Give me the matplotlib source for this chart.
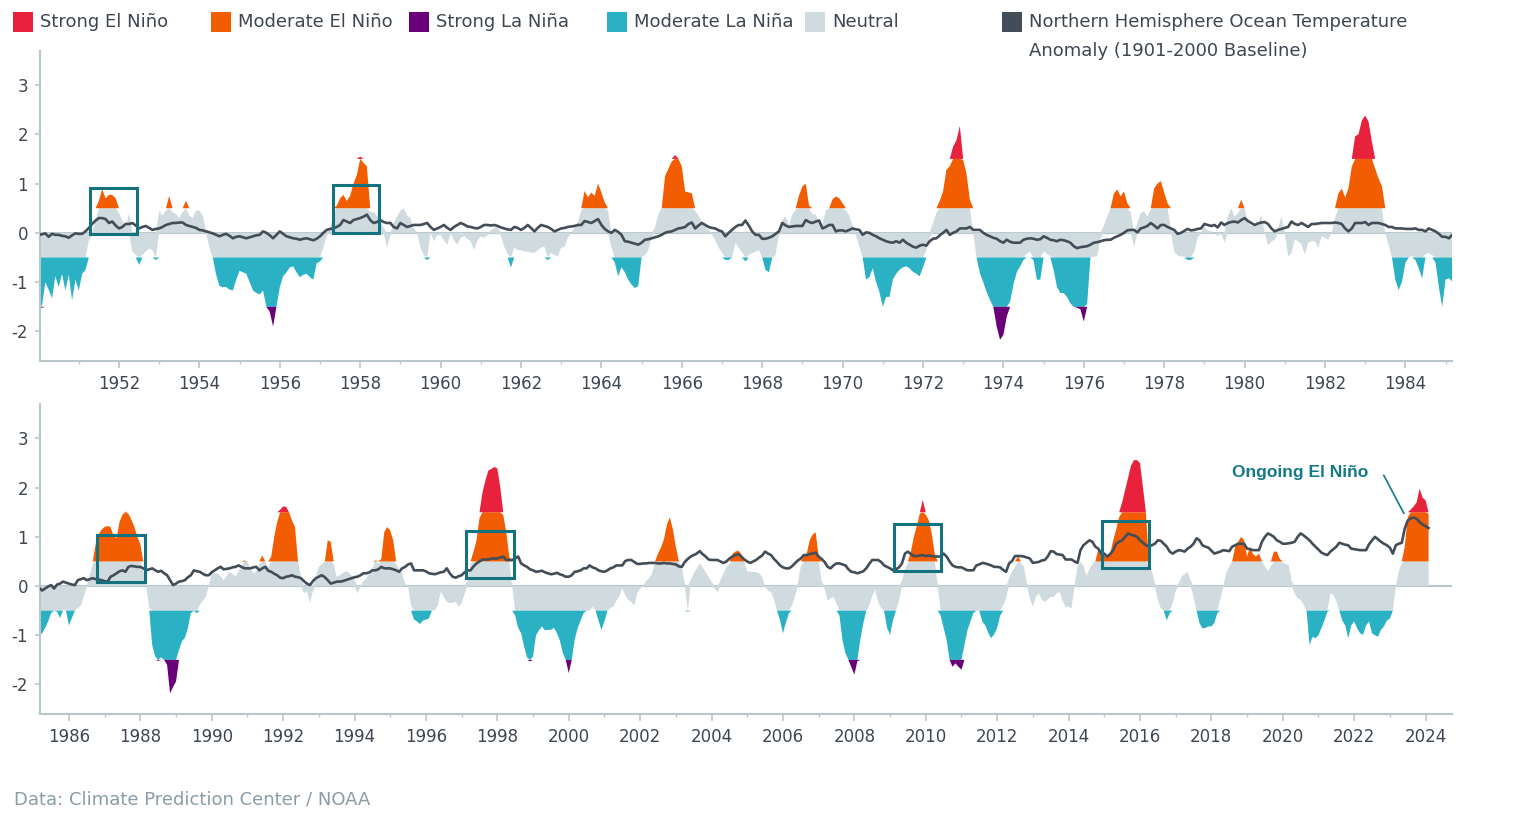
import numpy as np
import matplotlib
matplotlib.use("Agg")
import matplotlib.pyplot as plt
from matplotlib.patches import Rectangle

# Monthly ENSO index (Jan 1950 - Feb 2024)
enso_index = [
    -1.3, -1.52, -1.0, -1.15, -1.33, -0.88, -1.1, -0.83, -1.17, -0.85, -1.37, -0.95,   # 1950
    -1.17, -0.83, -0.75, -0.15, -0.05, 0.25, 0.65, 0.89, 0.7, 0.77, 0.77, 0.7,        # 1951
    0.4, 0.25, 0.12, 0.4, -0.38, -0.45, -0.65, -0.45, -0.38, -0.32, -0.35, -0.55,     # 1952
    0.45, 0.35, 0.45, 0.75, 0.42, 0.38, 0.3, 0.42, 0.65, 0.35, 0.3, 0.45,             # 1953
    0.45, 0.35, 0.05, -0.3, -0.5, -0.85, -1.08, -1.1, -1.1, -1.15, -1.17, -0.95,      # 1954
    -0.77, -0.8, -0.83, -1.0, -1.17, -1.22, -1.25, -1.17, -1.5, -1.6, -1.9, -1.5,     # 1955
    -1.1, -0.88, -0.8, -0.7, -0.68, -0.8, -0.9, -0.85, -0.83, -0.9, -0.95, -0.62,     # 1956
    -0.58, -0.3, -0.05, 0.1, 0.35, 0.55, 0.7, 0.77, 0.65, 0.75, 1.0, 1.17,            # 1957
    1.55, 1.42, 1.35, 0.42, 0.42, 0.35, 0.25, 0.1, -0.3, -0.05, 0.2, 0.33,            # 1958
    0.45, 0.5, 0.35, 0.3, 0.1, 0.0, -0.3, -0.45, -0.55, 0.0, -0.17, -0.05,            # 1959
    -0.04, -0.15, -0.24, -0.02, -0.15, -0.24, -0.1, -0.07, -0.12, -0.17, -0.35, -0.15,  # 1960
    -0.07, -0.1, -0.05, 0.05, 0.1, 0.12, -0.05, -0.28, -0.42, -0.7, -0.3, -0.35,      # 1961
    -0.35, -0.38, -0.38, -0.4, -0.41, -0.35, -0.3, -0.28, -0.55, -0.4, -0.45, -0.48,  # 1962
    -0.3, -0.28, -0.1, 0.0, 0.1, 0.22, 0.45, 0.85, 0.72, 0.82, 0.75, 1.0,             # 1963
    0.82, 0.62, 0.45, -0.3, -0.6, -0.88, -0.7, -0.8, -0.95, -1.05, -1.12, -1.08,      # 1964
    -0.5, -0.45, -0.35, -0.1, 0.1, 0.38, 0.5, 1.15, 1.3, 1.45, 1.58, 1.5,             # 1965
    1.35, 0.84, 0.82, 0.8, 0.45, 0.35, 0.22, 0.15, 0.05, -0.03, -0.15, -0.3,          # 1966
    -0.4, -0.55, -0.55, -0.5, -0.2, -0.3, -0.4, -0.58, -0.45, -0.41, -0.38, -0.35,    # 1967
    -0.5, -0.75, -0.8, -0.5, -0.45, -0.05, 0.26, 0.33, 0.15, 0.37, 0.47, 0.76,        # 1968
    0.94, 1.0, 0.55, 0.38, 0.37, 0.22, 0.17, 0.45, 0.5, 0.68, 0.74, 0.7,              # 1969
    0.6, 0.45, 0.35, 0.15, -0.05, -0.28, -0.5, -0.95, -0.9, -0.72, -1.0, -1.2,        # 1970
    -1.5, -1.3, -1.3, -0.95, -0.83, -0.75, -0.7, -0.68, -0.72, -0.79, -0.83, -0.88,   # 1971
    -0.7, -0.35, -0.1, 0.2, 0.4, 0.65, 0.84, 1.28, 1.35, 1.75, 1.88, 2.17,            # 1972
    1.48, 1.2, 0.67, 0.0, -0.5, -0.82, -1.0, -1.2, -1.36, -1.5, -1.9, -2.17,          # 1973
    -2.07, -1.7, -1.4, -1.05, -0.8, -0.68, -0.55, -0.42, -0.38, -0.55, -0.95, -0.95,  # 1974
    -0.38, -0.42, -0.48, -0.75, -1.1, -1.22, -1.22, -1.3, -1.43, -1.5, -1.52, -1.55,  # 1975
    -1.8, -1.45, -0.5, -0.48, -0.48, -0.1, 0.15, 0.33, 0.5, 0.8, 0.88, 0.74,          # 1976
    0.84, 0.6, 0.42, -0.28, 0.2, 0.4, 0.44, 0.33, 0.48, 0.9, 1.0, 1.05,               # 1977
    0.82, 0.6, 0.1, -0.38, -0.46, -0.48, -0.48, -0.55, -0.55, -0.38, -0.1, 0.02,      # 1978
    0.13, 0.05, 0.03, 0.0, -0.07, 0.0, -0.2, 0.33, 0.5, 0.33, 0.4, 0.67,              # 1979
    0.5, 0.2, 0.15, 0.13, 0.17, 0.38, 0.0, -0.25, -0.18, -0.14, 0.1, 0.33,            # 1980
    0.0, -0.48, -0.41, -0.14, -0.17, -0.24, -0.44, -0.2, -0.17, -0.17, -0.31, -0.07,  # 1981
    -0.1, -0.14, 0.0, 0.3, 0.8, 0.9, 0.72, 0.9, 1.34, 1.96, 2.0, 2.28,                # 1982
    2.38, 2.26, 1.85, 1.3, 1.1, 0.95, 0.0, -0.25, -0.5, -0.95, -1.16, -0.99,          # 1983
    -0.61, -0.5, -0.47, -0.55, -0.72, -0.92, -0.44, -0.41, -0.45, -0.6, -1.1, -1.5,   # 1984
    -0.95, -0.92, -0.99, -0.96, -0.85, -0.72, -0.55, -0.5, -0.52, -0.65, -0.49, -0.5,  # 1985
    -0.8, -0.65, -0.5, -0.45, -0.4, -0.22, 0.0, 0.22, 0.45, 0.86, 1.05, 1.15,         # 1986
    1.2, 1.22, 1.2, 1.02, 0.97, 1.3, 1.45, 1.51, 1.47, 1.35, 1.2, 1.0,                # 1987
    0.85, 0.3, 0.0, -0.45, -1.2, -1.43, -1.52, -1.45, -1.5, -1.6, -2.18, -2.05,       # 1988
    -1.94, -1.3, -1.12, -1.05, -0.85, -0.55, -0.49, -0.55, -0.38, -0.3, -0.22, -0.01,  # 1989
    0.26, 0.26, 0.26, 0.2, 0.12, 0.2, 0.29, 0.25, 0.19, 0.3, 0.4, 0.52,               # 1990
    0.5, 0.35, 0.26, 0.3, 0.45, 0.62, 0.5, 0.38, 0.6, 1.0, 1.3, 1.55,                 # 1991
    1.62, 1.61, 1.5, 1.33, 1.2, 0.5, 0.19, -0.15, -0.11, -0.34, -0.11, 0.19,          # 1992
    0.39, 0.45, 0.49, 0.93, 0.9, 0.45, 0.19, 0.22, 0.26, 0.3, 0.28, 0.22,             # 1993
    0.12, -0.15, -0.01, 0.1, 0.16, 0.26, 0.35, 0.52, 0.46, 0.55, 1.1, 1.2,            # 1994
    1.13, 0.93, 0.45, 0.35, 0.26, 0.05, -0.01, -0.4, -0.68, -0.72, -0.77, -0.7,       # 1995
    -0.68, -0.66, -0.5, -0.49, -0.39, -0.12, -0.22, -0.32, -0.35, -0.34, -0.32, -0.42,  # 1996
    -0.35, -0.15, 0.1, 0.45, 0.7, 0.93, 1.38, 1.9, 2.15, 2.35, 2.38, 2.42,            # 1997
    2.39, 2.0, 1.44, 1.1, 0.6, 0.0, -0.6, -0.85, -0.96, -1.23, -1.45, -1.53,          # 1998
    -1.43, -1.0, -0.9, -0.82, -0.9, -0.89, -0.89, -0.85, -0.95, -1.1, -1.36, -1.5,    # 1999
    -1.77, -1.5, -1.09, -0.85, -0.7, -0.55, -0.5, -0.5, -0.42, -0.5, -0.7, -0.89,     # 2000
    -0.72, -0.5, -0.45, -0.42, -0.3, -0.2, -0.05, -0.19, -0.28, -0.32, -0.4, -0.15,   # 2001
    -0.05, 0.0, 0.1, 0.16, 0.25, 0.47, 0.66, 0.78, 0.95, 1.25, 1.4, 1.15,             # 2002
    0.8, 0.5, 0.39, 0.05, -0.52, 0.12, 0.26, 0.35, 0.46, 0.39, 0.28, 0.19,            # 2003
    0.09, -0.05, -0.12, 0.12, 0.25, 0.39, 0.45, 0.65, 0.7, 0.72, 0.65, 0.5,           # 2004
    0.3, 0.29, 0.29, 0.28, 0.26, 0.19, 0.0, -0.1, -0.12, -0.28, -0.5, -0.69,          # 2005
    -0.96, -0.74, -0.55, -0.4, -0.22, 0.05, 0.4, 0.6, 0.66, 0.93, 1.05, 1.09,         # 2006
    0.6, 0.1, -0.05, -0.3, -0.25, -0.22, -0.35, -0.6, -1.1, -1.36, -1.5, -1.65,       # 2007
    -1.8, -1.53, -1.09, -0.76, -0.5, -0.4, -0.2, -0.08, -0.32, -0.45, -0.5, -0.85,    # 2008
    -0.99, -0.69, -0.5, -0.3, 0.1, 0.35, 0.47, 0.7, 1.0, 1.22, 1.47, 1.75,            # 2009
    1.45, 1.34, 1.07, 0.66, 0.05, -0.6, -0.85, -1.09, -1.5, -1.64, -1.57, -1.64,      # 2010
    -1.7, -1.2, -0.9, -0.72, -0.55, -0.5, -0.5, -0.72, -0.8, -0.95, -1.06, -0.98,     # 2011
    -0.85, -0.6, -0.4, -0.25, 0.15, 0.3, 0.39, 0.6, 0.47, 0.39, 0.05, -0.25,          # 2012
    -0.42, -0.22, -0.15, -0.28, -0.32, -0.28, -0.22, -0.22, -0.15, -0.12, -0.3, -0.42,  # 2013
    -0.42, -0.45, -0.01, 0.4, 0.49, 0.42, 0.2, 0.35, 0.45, 0.5, 0.75, 0.7,            # 2014
    0.62, 0.6, 0.66, 0.93, 1.15, 1.4, 1.7, 1.95, 2.2, 2.45, 2.56, 2.56,               # 2015
    2.5, 2.01, 1.5, 0.45, 0.3, 0.05, -0.28, -0.45, -0.5, -0.7, -0.55, -0.35,          # 2016
    -0.1, 0.05, 0.19, 0.25, 0.29, 0.12, -0.22, -0.5, -0.75, -0.86, -0.85, -0.82,      # 2017
    -0.82, -0.75, -0.55, -0.28, -0.01, 0.26, 0.4, 0.5, 0.8, 0.9, 1.0, 0.93,           # 2018
    0.6, 0.8, 0.65, 0.6, 0.66, 0.5, 0.4, 0.3, 0.4, 0.7, 0.7, 0.55,                    # 2019
    0.47, 0.46, 0.42, 0.1, -0.15, -0.25, -0.28, -0.38, -0.5, -1.2, -1.03, -1.06,      # 2020
    -1.0, -0.85, -0.7, -0.52, -0.15, -0.18, -0.3, -0.5, -0.7, -0.8, -1.06, -0.8,      # 2021
    -0.72, -0.86, -0.96, -0.99, -0.8, -0.72, -0.96, -1.0, -1.03, -0.89, -0.82, -0.7,  # 2022
    -0.66, -0.5, -0.01, 0.3, 0.47, 0.8, 1.4, 1.55, 1.62, 1.7, 1.98, 1.8,              # 2023
    1.74, 1.47,                                                                       # 2024
]

# Monthly Northern Hemisphere ocean temperature anomaly (deg C, 1901-2000 baseline)
nh_ocean_anomaly = [
    -0.04, -0.03, -0.01, -0.08, -0.02, -0.04, -0.04, -0.06, -0.07, -0.1, -0.05, -0.01,  # 1950
    -0.02, -0.02, 0.03, 0.1, 0.18, 0.25, 0.3, 0.3, 0.28, 0.2, 0.23, 0.15,
    0.09, 0.12, 0.18, 0.18, 0.2, 0.15, 0.09, 0.12, 0.14, 0.1, 0.06, 0.08,
    0.09, 0.12, 0.16, 0.18, 0.2, 0.2, 0.21, 0.21, 0.16, 0.14, 0.12, 0.1,
    0.06, 0.05, 0.03, 0.01, -0.01, -0.04, -0.07, -0.04, -0.02, -0.06, -0.11, -0.08,
    -0.07, -0.09, -0.11, -0.09, -0.07, -0.05, -0.04, 0.03, 0.0, -0.05, -0.11, -0.04,  # 1955
    0.03, -0.02, -0.07, -0.09, -0.11, -0.12, -0.14, -0.12, -0.11, -0.13, -0.15, -0.12,
    -0.07, 0.0, 0.06, 0.08, 0.09, 0.12, 0.16, 0.26, 0.23, 0.2, 0.26, 0.28,
    0.3, 0.33, 0.37, 0.26, 0.2, 0.22, 0.26, 0.22, 0.2, 0.2, 0.12, 0.09,
    0.2, 0.16, 0.12, 0.14, 0.16, 0.16, 0.16, 0.18, 0.2, 0.12, 0.06, 0.09,
    0.12, 0.16, 0.1, 0.06, 0.12, 0.16, 0.2, 0.17, 0.13, 0.12, 0.1, 0.09,              # 1960
    0.12, 0.16, 0.16, 0.15, 0.16, 0.14, 0.11, 0.09, 0.07, 0.06, 0.12, 0.1,
    0.06, 0.1, 0.16, 0.1, 0.03, 0.1, 0.16, 0.14, 0.12, 0.08, 0.03, 0.06,
    0.09, 0.1, 0.12, 0.13, 0.14, 0.16, 0.16, 0.24, 0.22, 0.2, 0.24, 0.28,
    0.16, 0.08, 0.03, 0.0, 0.06, 0.02, -0.04, -0.17, -0.18, -0.2, -0.22, -0.24,
    -0.2, -0.14, -0.13, -0.11, -0.09, -0.07, -0.04, 0.0, 0.02, 0.03, 0.06, 0.09,      # 1965
    0.1, 0.12, 0.18, 0.21, 0.09, 0.15, 0.2, 0.16, 0.12, 0.1, 0.09, 0.05,
    0.03, -0.07, 0.0, 0.06, 0.12, 0.16, 0.16, 0.25, 0.15, 0.03, -0.04, -0.04,
    -0.12, -0.12, -0.1, -0.07, -0.02, 0.03, 0.2, 0.15, 0.12, 0.13, 0.14, 0.14,
    0.14, 0.26, 0.22, 0.2, 0.23, 0.25, 0.09, 0.12, 0.16, 0.16, 0.03, 0.05,
    0.05, 0.03, 0.06, 0.09, 0.07, 0.06, -0.04, 0.01, 0.0, -0.04, -0.07, -0.11,        # 1970
    -0.14, -0.17, -0.19, -0.2, -0.17, -0.2, -0.14, -0.2, -0.24, -0.28, -0.3, -0.26,
    -0.24, -0.26, -0.17, -0.12, -0.11, -0.05, 0.0, 0.06, -0.04, 0.0, 0.03, 0.09,
    0.09, 0.09, 0.12, 0.06, 0.06, 0.06, 0.0, -0.04, -0.07, -0.1, -0.12, -0.17,
    -0.2, -0.14, -0.18, -0.2, -0.2, -0.2, -0.14, -0.12, -0.11, -0.12, -0.14, -0.13,
    -0.07, -0.1, -0.14, -0.15, -0.17, -0.14, -0.15, -0.17, -0.2, -0.27, -0.31, -0.29,  # 1975
    -0.28, -0.27, -0.24, -0.2, -0.19, -0.17, -0.15, -0.14, -0.14, -0.1, -0.07, -0.04,
    0.0, 0.05, 0.06, 0.06, 0.01, 0.09, 0.11, 0.14, 0.2, 0.15, 0.09, 0.16,
    0.16, 0.12, 0.09, 0.06, -0.02, 0.0, 0.04, 0.08, 0.05, 0.06, 0.08, 0.09,
    0.18, 0.16, 0.14, 0.16, 0.11, 0.21, 0.16, 0.2, 0.22, 0.23, 0.21, 0.26,
    0.3, 0.24, 0.2, 0.16, 0.19, 0.21, 0.22, 0.18, 0.09, 0.03, 0.06, 0.08,             # 1980
    0.1, 0.12, 0.23, 0.18, 0.16, 0.2, 0.16, 0.12, 0.18, 0.18, 0.19, 0.2,
    0.2, 0.2, 0.2, 0.21, 0.2, 0.18, 0.09, 0.03, 0.09, 0.2, 0.2, 0.2,
    0.22, 0.16, 0.2, 0.2, 0.2, 0.18, 0.16, 0.12, 0.12, 0.09, 0.09, 0.09,
    0.08, 0.08, 0.08, 0.09, 0.06, 0.06, 0.03, 0.09, 0.06, 0.03, -0.02, -0.08,
    -0.08, -0.11, -0.04, -0.09, -0.05, -0.01, 0.02, -0.05, 0.03, 0.05, 0.09, 0.07,    # 1985
    0.05, 0.03, 0.02, 0.12, 0.14, 0.16, 0.12, 0.14, 0.16, 0.14, 0.13, 0.12,
    0.1, 0.09, 0.19, 0.22, 0.26, 0.3, 0.32, 0.29, 0.39, 0.41, 0.4, 0.39,
    0.39, 0.36, 0.32, 0.34, 0.36, 0.32, 0.29, 0.31, 0.26, 0.22, 0.12, 0.02,
    0.05, 0.09, 0.1, 0.12, 0.18, 0.22, 0.32, 0.3, 0.29, 0.25, 0.22, 0.22,
    0.28, 0.32, 0.36, 0.39, 0.34, 0.35, 0.36, 0.38, 0.39, 0.42, 0.39, 0.36,           # 1990
    0.36, 0.36, 0.38, 0.39, 0.32, 0.36, 0.39, 0.31, 0.29, 0.25, 0.22, 0.17,
    0.16, 0.19, 0.2, 0.22, 0.19, 0.18, 0.16, 0.1, 0.05, 0.02, 0.1, 0.16,
    0.19, 0.22, 0.18, 0.12, 0.05, 0.07, 0.09, 0.09, 0.1, 0.12, 0.14, 0.16,
    0.18, 0.19, 0.22, 0.26, 0.26, 0.28, 0.32, 0.32, 0.34, 0.39, 0.36, 0.36,
    0.36, 0.34, 0.32, 0.29, 0.36, 0.39, 0.44, 0.46, 0.32, 0.32, 0.32, 0.32,           # 1995
    0.3, 0.26, 0.25, 0.24, 0.26, 0.28, 0.29, 0.36, 0.26, 0.19, 0.17, 0.2,
    0.22, 0.28, 0.32, 0.32, 0.4, 0.46, 0.5, 0.54, 0.54, 0.54, 0.56, 0.56,
    0.56, 0.58, 0.6, 0.53, 0.53, 0.53, 0.56, 0.6, 0.46, 0.42, 0.39, 0.34,
    0.32, 0.29, 0.3, 0.31, 0.28, 0.26, 0.24, 0.25, 0.27, 0.24, 0.22, 0.19,
    0.19, 0.22, 0.29, 0.3, 0.32, 0.36, 0.36, 0.42, 0.38, 0.36, 0.32, 0.3,             # 2000
    0.29, 0.32, 0.36, 0.38, 0.42, 0.42, 0.42, 0.51, 0.53, 0.53, 0.49, 0.45,
    0.45, 0.46, 0.46, 0.47, 0.47, 0.47, 0.46, 0.46, 0.47, 0.46, 0.46, 0.45,
    0.44, 0.4, 0.39, 0.49, 0.55, 0.6, 0.63, 0.66, 0.71, 0.65, 0.6, 0.54,
    0.53, 0.53, 0.53, 0.5, 0.47, 0.5, 0.56, 0.6, 0.63, 0.65, 0.6, 0.54,
    0.5, 0.47, 0.5, 0.53, 0.58, 0.62, 0.7, 0.66, 0.63, 0.55, 0.49, 0.42,              # 2005
    0.38, 0.36, 0.36, 0.4, 0.46, 0.52, 0.56, 0.63, 0.63, 0.65, 0.66, 0.68,
    0.6, 0.55, 0.49, 0.39, 0.36, 0.42, 0.46, 0.46, 0.44, 0.42, 0.34, 0.29,
    0.28, 0.26, 0.28, 0.3, 0.36, 0.45, 0.53, 0.53, 0.53, 0.49, 0.42, 0.39,
    0.36, 0.32, 0.34, 0.38, 0.46, 0.66, 0.7, 0.65, 0.61, 0.61, 0.62, 0.63,
    0.61, 0.62, 0.61, 0.6, 0.6, 0.6, 0.66, 0.6, 0.5, 0.42, 0.39, 0.38,                # 2010
    0.38, 0.35, 0.32, 0.32, 0.32, 0.42, 0.44, 0.47, 0.46, 0.44, 0.42, 0.39,
    0.39, 0.38, 0.33, 0.29, 0.46, 0.51, 0.61, 0.61, 0.61, 0.6, 0.58, 0.56,
    0.47, 0.48, 0.49, 0.52, 0.53, 0.6, 0.71, 0.7, 0.65, 0.64, 0.63, 0.54,
    0.54, 0.54, 0.5, 0.47, 0.73, 0.83, 0.88, 0.93, 0.9, 0.8, 0.76, 0.66,
    0.66, 0.6, 0.65, 0.73, 0.86, 0.9, 0.93, 1.0, 1.07, 1.04, 1.03, 1.0,               # 2015
    0.93, 0.88, 0.83, 0.8, 0.83, 0.86, 0.93, 0.92, 0.86, 0.8, 0.7, 0.66,
    0.7, 0.73, 0.72, 0.7, 0.76, 0.8, 0.86, 0.97, 0.93, 0.83, 0.8, 0.78,
    0.72, 0.66, 0.68, 0.7, 0.73, 0.72, 0.71, 0.8, 0.83, 0.86, 0.86, 0.86,
    0.76, 0.75, 0.73, 0.73, 0.73, 0.9, 1.0, 1.07, 1.04, 1.0, 0.93, 0.9,
    0.86, 0.86, 0.87, 0.88, 0.9, 1.0, 1.07, 1.03, 0.98, 0.93, 0.86, 0.8,              # 2020
    0.74, 0.68, 0.65, 0.63, 0.7, 0.75, 0.8, 0.88, 0.86, 0.84, 0.83, 0.76,
    0.75, 0.74, 0.73, 0.73, 0.73, 0.85, 0.93, 1.0, 0.95, 0.9, 0.86, 0.83,
    0.78, 0.66, 0.83, 0.86, 0.88, 1.17, 1.33, 1.38, 1.39, 1.37, 1.3, 1.25,
    1.22, 1.18,                                                                       # 2024
]

start_year = 1950

legend_labels = ["Strong El Niño", "Moderate El Niño", "Strong La Niña",
                 "Moderate La Niña", "Neutral"]
line_label = ["Northern Hemisphere Ocean Temperature", "Anomaly (1901-2000 Baseline)"]

# El Niño events highlighted with boxes: (panel, year start, year end, low, high)
highlight_boxes = [
    (0, 1951.28, 1952.45, -0.02, 0.92),
    (0, 1957.32, 1958.48, 0.0, 0.97),
    (1, 1986.78, 1988.13, 0.08, 1.04),
    (1, 1997.12, 1998.46, 0.16, 1.12),
    (1, 2009.11, 2010.44, 0.30, 1.26),
    (1, 2014.93, 2016.26, 0.36, 1.32),
]

# colours
c_strong_nino = "#E8223D"
c_mod_nino = "#F25D02"
c_strong_nina = "#6A0077"
c_mod_nina = "#2BB1C4"
c_neutral = "#CFDBDF"
c_line = "#434D58"
c_box = "#14727F"
c_axis = "#B9C7CC"
c_text = "#3E4751"

plt.rcParams["font.family"] = "DejaVu Sans"
plt.rcParams["axes.unicode_minus"] = False

W, H = 1517, 815
fig = plt.figure(figsize=(W / 100, H / 100), dpi=100)

v = np.array(enso_index)
temp = np.array(nh_ocean_anomaly)
t = start_year + np.arange(len(v)) / 12.0


def band(ax, lo, hi, color):
    vals = np.clip(v, lo, hi)
    base = lo if lo >= 0 else hi
    on = vals != base
    on = on | np.roll(on, 1) | np.roll(on, -1)
    ax.fill_between(t, base, vals, where=on, color=color, lw=0, zorder=2)


def draw_panel(ax, xlim, major):
    ax.axhline(0, color=c_axis, lw=1.5, zorder=1)
    band(ax, 0, 0.5, c_neutral)
    band(ax, -0.5, 0, c_neutral)
    band(ax, 0.5, 1.5, c_mod_nino)
    band(ax, 1.5, 5, c_strong_nino)
    band(ax, -1.5, -0.5, c_mod_nina)
    band(ax, -5, -1.5, c_strong_nina)
    ax.plot(t, temp, color=c_line, lw=1.9, zorder=4, solid_joinstyle="round")

    minor = [y for y in range(int(xlim[0]), int(xlim[1]) + 1)
             if y % 2 == 1 and xlim[0] <= y <= xlim[1]]
    ax.set_xticks(major)
    ax.set_xticks(minor, minor=True)
    ax.set_xticklabels([str(y) for y in major])
    ax.set_yticks([-2, -1, 0, 1, 2, 3])
    ax.set_xlim(*xlim)
    ax.set_ylim(-2.6, 3.7)
    for s in ["top", "right"]:
        ax.spines[s].set_visible(False)
    for s in ["left", "bottom"]:
        ax.spines[s].set_color(c_axis)
        ax.spines[s].set_linewidth(1.5)
    ax.tick_params(axis="x", which="major", length=5, width=1.2, color=c_axis,
                   labelsize=12, labelcolor=c_text, pad=5)
    ax.tick_params(axis="x", which="minor", length=2.5, width=1.0, color=c_axis)
    ax.tick_params(axis="y", length=3.5, width=1.2, color=c_axis,
                   labelsize=12, labelcolor=c_text, pad=5)


left, right = 40 / W, 1452 / W
ax_top = fig.add_axes([left, 1 - 361 / H, right - left, 310.5 / H])
ax_bot = fig.add_axes([left, 1 - 714 / H, right - left, 310 / H])

draw_panel(ax_top, (1950.035, 1985.16), list(range(1952, 1985, 2)))
draw_panel(ax_bot, (1985.19, 2024.74), list(range(1986, 2025, 2)))

axes = [ax_top, ax_bot]
for panel, x0, x1, y0, y1 in highlight_boxes:
    axes[panel].add_patch(Rectangle((x0, y0), x1 - x0, y1 - y0, fill=False,
                                    edgecolor=c_box, lw=2.2, zorder=5))

# annotation for the current event
ax_bot.text(2018.58, 2.31, "Ongoing El Niño", color="#137A87", fontsize=12.5,
            fontweight="bold", family="Liberation Sans", ha="left", va="center")
ax_bot.plot([2022.83, 2023.39], [2.25, 1.48], color="#137A87", lw=1.2, zorder=6)

# legend drawn across the top
legend_colors = [c_strong_nino, c_mod_nino, c_strong_nina, c_mod_nina, c_neutral]
square_x = [13, 211, 409, 607, 805]
for lab, col, sx in zip(legend_labels, legend_colors, square_x):
    fig.add_artist(Rectangle((sx / W, 1 - 32 / H), 20 / W, 20 / H,
                             transform=fig.transFigure, color=col, lw=0))
    fig.text((sx + 27) / W, 1 - 22 / H, lab, fontsize=13, color=c_text,
             ha="left", va="center")
fig.add_artist(Rectangle((1002 / W, 1 - 32 / H), 20 / W, 20 / H,
                         transform=fig.transFigure, color=c_line, lw=0))
fig.text(1029 / W, 1 - 22 / H, line_label[0], fontsize=13, color=c_text,
         ha="left", va="center")
fig.text(1029 / W, 1 - 51 / H, line_label[1], fontsize=13, color=c_text,
         ha="left", va="center")

fig.text(14 / W, 1 - 800 / H, "Data: Climate Prediction Center / NOAA",
         fontsize=13, color="#8A9CA7", ha="left", va="center")

fig.savefig("out.png", dpi=100)
